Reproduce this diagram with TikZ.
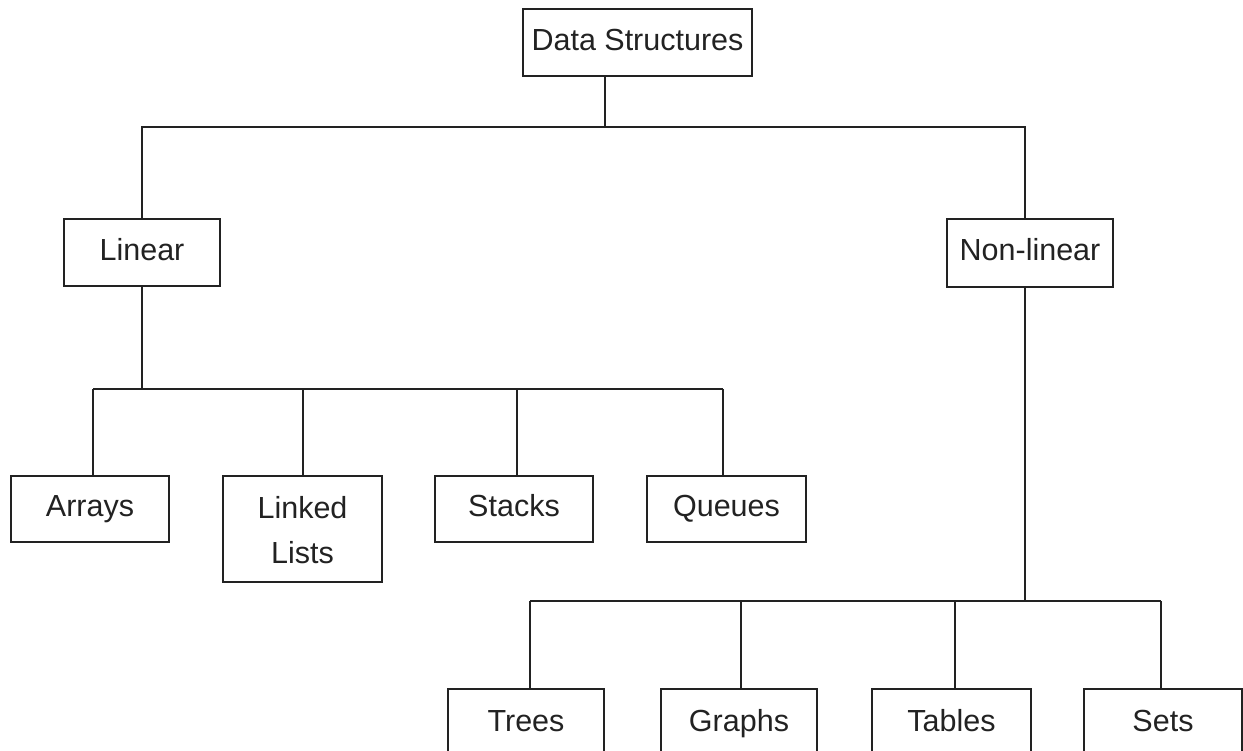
\documentclass[tikz,border=0pt]{standalone}
\usepackage{fontspec}
\setmainfont{Liberation Sans}
\definecolor{ink}{HTML}{222222}
\begin{document}
\begin{tikzpicture}[x=1pt,y=-1pt,
  ln/.style={draw=ink,line width=2pt},
  box/.style={draw=ink,line width=2pt,rectangle,inner xsep=0pt,inner ysep=0pt,
    text height=23pt,text depth=7.5pt,font=\fontsize{30.5}{45}\selectfont,text=ink,align=center},
  lowbox/.style={box,anchor=north,inner ysep=19pt,text height=23pt,text depth=60pt}
  ]
\useasboundingbox (0,0) rectangle (1243,751);
\clip (0,0) rectangle (1243,751);
% nodes
\node[box,minimum width=229pt,minimum height=67pt] (ds) at (637.5,42.5) {Data Structures};
\node[box,minimum width=156pt,minimum height=67pt] (lin) at (142,252.5) {Linear};
\node[box,minimum width=166pt,minimum height=68pt] (nl) at (1030,253) {Non-linear};
\node[box,minimum width=158pt,minimum height=66pt] (arr) at (90,509) {Arrays};
\node[box,minimum width=159pt,minimum height=106pt,text height=75.5pt] (ll) at (302.5,529) {Linked\\Lists};
\node[box,minimum width=158pt,minimum height=66pt] (st) at (514,509) {Stacks};
\node[box,minimum width=159pt,minimum height=66pt] (qu) at (726.5,509) {Queues};
\node[lowbox,minimum width=156pt] (tr) at (526,688) {Trees};
\node[lowbox,minimum width=156pt] (gr) at (739,688) {Graphs};
\node[lowbox,minimum width=159pt] (tb) at (951.5,688) {Tables};
\node[lowbox,minimum width=158pt] (se) at (1163,688) {Sets};
% junction coordinates
\coordinate (jds) at (605,127);
\coordinate (jlin) at (142,127);
\coordinate (jnl) at (1025,127);
\coordinate (ja) at (93,389);
\coordinate (jb) at (303,389);
\coordinate (jc) at (517,389);
\coordinate (jd) at (723,389);
\coordinate (jlb) at (142,389);
\coordinate (jt) at (530,601);
\coordinate (jg) at (741,601);
\coordinate (jtb) at (955,601);
\coordinate (js) at (1161,601);
\coordinate (jnb) at (1025,601);
% connectors
\draw[ln] (ds.south -| jds) -- (jds);
\draw[ln] (lin.north -| jlin) -- (jlin) -- (jnl) -- (nl.north -| jnl);
\draw[ln] (lin.south -| jlb) -- (jlb);
\draw[ln] (ja) -- (jd);
\draw[ln] (ja) -- (arr.north -| ja);
\draw[ln] (jb) -- (ll.north -| jb);
\draw[ln] (jc) -- (st.north -| jc);
\draw[ln] (jd) -- (qu.north -| jd);
\draw[ln] (nl.south -| jnb) -- (jnb);
\draw[ln] (jt) -- (js);
\draw[ln] (jt) -- (tr.north -| jt);
\draw[ln] (jg) -- (gr.north -| jg);
\draw[ln] (jtb) -- (tb.north -| jtb);
\draw[ln] (js) -- (se.north -| js);
\end{tikzpicture}
\end{document}
